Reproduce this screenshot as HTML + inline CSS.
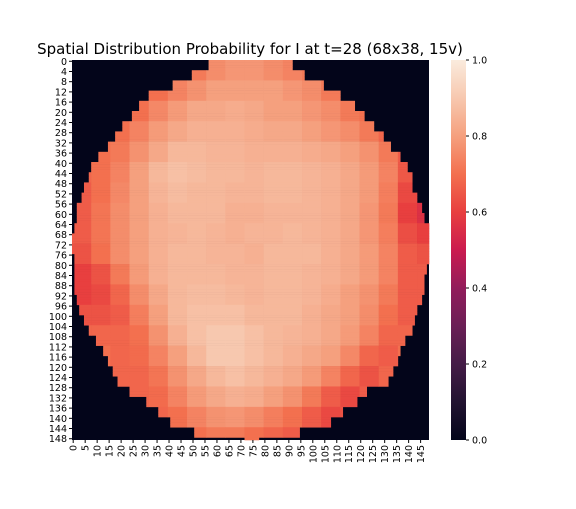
<!DOCTYPE html>
<html><head><meta charset="utf-8"><style>
body{margin:0;background:#fff;}
svg text{font-family:"DejaVu Sans","Liberation Sans",sans-serif;}
</style></head><body>
<svg id="chart" width="576" height="504" xmlns="http://www.w3.org/2000/svg">
<defs><linearGradient id="cbg" x1="0" y1="1" x2="0" y2="0">
<stop offset="0" stop-color="#03051a"/><stop offset="0.1" stop-color="#221331"/><stop offset="0.2" stop-color="#451c47"/><stop offset="0.3" stop-color="#6b1f56"/><stop offset="0.4" stop-color="#921c5b"/><stop offset="0.5" stop-color="#cb1b4f"/><stop offset="0.6" stop-color="#e83f3f"/><stop offset="0.7" stop-color="#f3704f"/><stop offset="0.8" stop-color="#f5a07e"/><stop offset="0.9" stop-color="#f7c8af"/><stop offset="1" stop-color="#faebdd"/>
</linearGradient></defs>
<text x="250" y="54" font-size="15" text-anchor="middle">Spatial Distribution Probability for I at t=28 (68x38, 15v)</text>
<rect x="72" y="60" width="357" height="380" fill="#03051a"/>
<g id="cells"></g>
<g id="yticks"></g>
<g id="xticks"></g>
<rect x="451" y="60" width="15" height="380" fill="url(#cbg)"/>
<g id="cbticks"></g>
</svg>
<script>
const nRows = 149, nCols = 149, blockSize = 8;
const leftEdge = [57,50,42,32,28,25,21,18,15,11,8,7,5,4,2,2,1,0,0,1,1,1,1,2,3,5,7,10,13,15,17,19,24,31,36,41,51,72];
const rightEdge = [91,96,104,111,117,121,125,129,132,136,139,141,141,143,145,146,148,148,148,148,147,146,146,145,143,142,141,138,136,135,133,131,122,118,112,107,94,77];
const values = [
[.7,.7,.7,.7,.7,.7,.72,.76,.78,.78,.76,.74,.72,.7,.7,.7,.7,.7,.7],
[.7,.7,.7,.7,.7,.74,.77,.8,.8,.8,.8,.78,.76,.72,.7,.7,.7,.7,.7],
[.7,.7,.7,.7,.75,.79,.82,.82,.83,.82,.8,.8,.78,.76,.72,.7,.7,.7,.7],
[.7,.7,.7,.74,.79,.82,.84,.84,.84,.83,.82,.82,.8,.78,.76,.72,.68,.7,.7],
[.7,.7,.72,.77,.82,.86,.86,.85,.85,.84,.84,.84,.83,.82,.8,.77,.72,.66,.66],
[.68,.7,.74,.8,.86,.88,.87,.86,.86,.85,.86,.86,.85,.84,.82,.79,.74,.65,.62],
[.66,.7,.75,.8,.85,.87,.86,.86,.85,.85,.86,.86,.85,.84,.82,.79,.73,.62,.58],
[.66,.71,.76,.8,.84,.86,.86,.86,.84,.84,.85,.85,.85,.84,.82,.78,.72,.6,.56],
[.66,.71,.76,.8,.84,.85,.86,.85,.84,.85,.85,.86,.85,.84,.82,.78,.73,.63,.6],
[.64,.7,.76,.8,.84,.86,.86,.85,.85,.84,.86,.86,.86,.84,.82,.79,.74,.66,.64],
[.6,.64,.72,.79,.84,.86,.86,.86,.85,.85,.86,.86,.85,.84,.82,.79,.74,.66,.66],
[.6,.62,.68,.76,.82,.86,.87,.87,.86,.85,.86,.86,.85,.83,.8,.77,.72,.66,.66],
[.64,.64,.66,.73,.8,.86,.88,.88,.88,.86,.86,.86,.84,.82,.8,.76,.7,.66,.68],
[.68,.68,.68,.7,.77,.84,.88,.9,.9,.88,.86,.85,.84,.82,.79,.74,.68,.68,.7],
[.7,.7,.68,.69,.74,.8,.86,.9,.9,.88,.86,.84,.82,.8,.75,.68,.66,.7,.7],
[.7,.7,.68,.68,.71,.77,.82,.86,.88,.86,.84,.82,.79,.74,.68,.64,.68,.7,.7],
[.7,.7,.7,.68,.69,.74,.79,.82,.84,.83,.8,.77,.72,.66,.62,.66,.7,.7,.7],
[.7,.7,.7,.7,.68,.7,.74,.77,.78,.76,.73,.7,.66,.62,.64,.7,.7,.7,.7],
[.7,.7,.7,.7,.7,.68,.7,.72,.72,.7,.68,.66,.66,.68,.7,.7,.7,.7,.7]];
const yTickLabels = [0,4,8,12,16,20,24,28,32,36,40,44,48,52,56,60,64,68,72,76,80,84,88,92,96,100,104,108,112,116,120,124,128,132,136,140,144,148];
const xTickLabels = [0,5,10,15,20,25,30,35,40,45,50,55,60,65,70,75,80,85,90,95,100,105,110,115,120,125,130,135,140,145];
const cbTickLabels = [0.0,0.2,0.4,0.6,0.8,1.0];

const X0=72,X1=429,Y0=60,Y1=440;
const cw=(X1-X0)/nCols, ch=(Y1-Y0)/nRows;
const xs=c=>X0+c*cw, ys=r=>Y0+r*ch;
const stops=[[3,5,26],[34,19,49],[69,28,71],[107,31,86],[146,28,91],[203,27,79],[232,63,63],[243,112,79],[245,160,126],[247,200,175],[250,235,221]];
function cmap(v){v=Math.max(0,Math.min(1,v));const t=v*10,i=Math.min(9,Math.floor(t)),f=t-i;const a=stops[i],b=stops[i+1];
return 'rgb('+a.map((x,k)=>Math.round(x+(b[k]-x)*f)).join(',')+')';}
const NS='http://www.w3.org/2000/svg';
const g=document.getElementById('cells');
for(let r=0;r<nRows;r++){
  const bi=Math.floor(r/4), L=leftEdge[bi], R=rightEdge[bi];
  const br=Math.floor(r/blockSize);
  for(let bc=0;bc<values[0].length;bc++){
    const c0=Math.max(L,bc*blockSize), c1=Math.min(R,bc*blockSize+blockSize-1);
    if(c1<c0) continue;
    const el=document.createElementNS(NS,'rect');
    el.setAttribute('x',xs(c0));el.setAttribute('y',ys(r));
    el.setAttribute('width',xs(c1+1)-xs(c0)+0.3);el.setAttribute('height',ch+0.3);
    el.setAttribute('fill',cmap(values[br][bc]));
    
    
    g.appendChild(el);
  }
}
const yt=document.getElementById('yticks');
yTickLabels.forEach(v=>{const y=ys(v+0.5);
  const l=document.createElementNS(NS,'line');l.setAttribute('x1',X0-3);l.setAttribute('x2',X0);l.setAttribute('y1',y);l.setAttribute('y2',y);l.setAttribute('stroke','#000');
  
  
  yt.appendChild(l);
  const t=document.createElementNS(NS,'text');t.setAttribute('x',X0-5);t.setAttribute('y',y+3.5);t.setAttribute('font-size','9.5');t.setAttribute('text-anchor','end');t.textContent=v;
  
  
  yt.appendChild(t);});
const xt=document.getElementById('xticks');
xTickLabels.forEach(v=>{const x=xs(v+0.5);
  const l=document.createElementNS(NS,'line');l.setAttribute('x1',x);l.setAttribute('x2',x);l.setAttribute('y1',Y1);l.setAttribute('y2',Y1+3);l.setAttribute('stroke','#000');
  
  
  xt.appendChild(l);
  const t=document.createElementNS(NS,'text');t.setAttribute('font-size','9.5');t.setAttribute('text-anchor','end');
  t.setAttribute('transform','translate('+(x+3.5)+','+(Y1+5)+') rotate(-90)');t.textContent=v;
  
  
  xt.appendChild(t);});
const cb=document.getElementById('cbticks');
cbTickLabels.forEach(v=>{const y=Y1-v*(Y1-Y0);
  const l=document.createElementNS(NS,'line');l.setAttribute('x1',466);l.setAttribute('x2',469);l.setAttribute('y1',y);l.setAttribute('y2',y);l.setAttribute('stroke','#000');
  
  
  cb.appendChild(l);
  const t=document.createElementNS(NS,'text');t.setAttribute('x',472);t.setAttribute('y',y+3.5);t.setAttribute('font-size','9.5');t.textContent=v.toFixed(1);
  
  
  cb.appendChild(t);});
</script>
</body></html>
